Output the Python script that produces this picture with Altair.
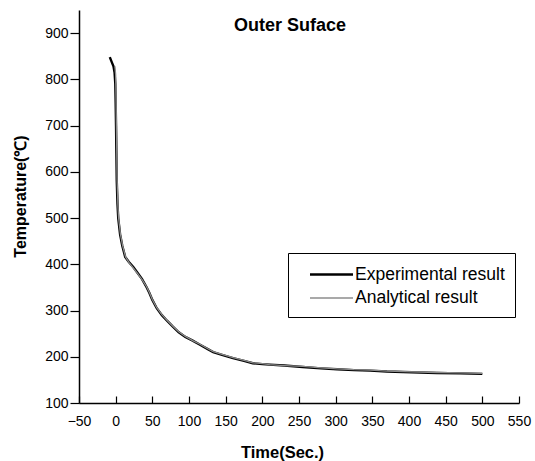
import altair as alt
import pandas as pd

# Experimental result
exp_time = [-8, -6, -3, -1.5, -0.5, 0, 0.5, 1, 1.5, 2.5, 3.5, 6, 9, 13, 18, 24, 30, 36, 42, 46, 50,
            56, 63, 70, 78, 86, 95, 105, 115, 125, 133, 145, 160, 175, 187, 200, 210, 230, 255,
            280, 302, 325, 347, 370, 392, 415, 438, 470, 500]
exp_temp = [848, 840, 828, 815, 790, 750, 700, 640, 580, 530, 500, 465, 440, 416, 405, 394, 381,
            368, 351, 338, 323, 305, 290, 278, 265, 253, 243, 235, 226, 217, 210, 204, 197, 191,
            186, 184, 183, 181, 178, 175, 173, 171, 170, 168, 167, 166, 165, 164, 163]

# Analytical result
ana_time = [-1, 0, 0.5, 1, 1.5, 2, 3, 4, 6.5, 9.5, 13.5, 18, 24, 30, 36, 42, 46, 50, 56, 63, 70,
            78, 86, 95, 105, 115, 125, 133, 145, 160, 175, 187, 200, 210, 230, 255, 280, 302,
            325, 347, 370, 392, 415, 438, 470, 500]
ana_temp = [828, 810, 760, 700, 640, 580, 530, 500, 465, 440, 416, 404, 392, 380, 367, 352, 339,
            324, 306, 291, 279, 266, 254, 244, 235, 227, 218, 211, 205, 198, 192, 187, 185, 183,
            181, 179, 176, 174, 172, 171, 169, 168, 167, 166, 165, 164]

series_names = ["Experimental result", "Analytical result"]
x_ticks = list(range(-50, 551, 50))
y_ticks = list(range(100, 901, 100))

df = pd.concat([
    pd.DataFrame({"time": exp_time, "temp": exp_temp, "series": series_names[0]}),
    pd.DataFrame({"time": ana_time, "temp": ana_temp, "series": series_names[1]}),
], ignore_index=True)

FONT = "Liberation Sans"
W, H = 440, 393

xscale = alt.Scale(domain=[-50, 550], nice=False, zero=False)
yscale = alt.Scale(domain=[100, 950], nice=False, zero=False)

yaxis = alt.Axis(
    values=y_ticks, tickSize=9,
    tickColor="black", tickWidth=1.2, domainColor="black", domainWidth=1.5,
    labelFont=FONT, labelFontSize=14, labelColor="black", labelPadding=2,
    labelFlush=False, grid=False,
    title="Temperature(℃)", titleFont=FONT, titleFontSize=16, titleFontWeight="bold",
    titleColor="black", titleAngle=270, titleX=-54, titleY=186, titleAlign="center",
    titleBaseline="alphabetic",
)

legend = alt.Legend(
    title=None, orient="none", legendX=209, legendY=243,
    strokeColor="black", padding=10,
    symbolType="M-2.15,0H2.15", symbolSize=400, symbolOffset=22,
    labelOffset=12, labelFont=FONT, labelFontSize=17.5, labelColor="black",
    rowPadding=4,
)

color = alt.Color("series:N",
                  scale=alt.Scale(domain=series_names, range=["black", "#8c8c8c"]),
                  legend=legend)
swidth = alt.StrokeWidth("series:N",
                         scale=alt.Scale(domain=series_names, range=[2.4, 1.3]),
                         legend=legend)

base = alt.Chart(df)

exp_layer = base.transform_filter(
    alt.datum.series == series_names[0]
).mark_line().encode(
    x=alt.X("time:Q", scale=xscale, axis=alt.Axis(
        orient="bottom", values=x_ticks,
        ticks=False, domainColor="black", domainWidth=1.5, grid=False,
        labelFont=FONT, labelFontSize=14, labelColor="black", labelPadding=11,
        labelFlush=False, labelOverlap=False,
        title="Time(Sec.)", titleFont=FONT, titleFontSize=16.5, titleFontWeight="bold",
        titleColor="black", titleX=203, titleY=54, titleBaseline="alphabetic",
        titleAlign="center")),
    y=alt.Y("temp:Q", scale=yscale, axis=yaxis),
    color=color, strokeWidth=swidth,
)

ana_layer = base.transform_filter(
    alt.datum.series == series_names[1]
).mark_line().encode(
    x=alt.X("time:Q", scale=xscale, axis=alt.Axis(
        orient="top", offset=-H, values=x_ticks, labels=False, domain=False, grid=False,
        tickSize=7, tickColor="black", tickWidth=1.2, title=None)),
    y=alt.Y("temp:Q", scale=yscale, axis=yaxis),
    color=color, strokeWidth=swidth,
)

chart = alt.layer(exp_layer, ana_layer).resolve_axis(x="independent").properties(
    width=W, height=H,
    background="white",
    autosize=alt.AutoSizeParams(type="none"),
    padding={"left": 79, "top": 10, "right": 16, "bottom": 58},
    title=alt.TitleParams("Outer Suface", font=FONT, fontSize=18, fontWeight="bold",
                          color="black", anchor="middle", frame="group", offset=0,
                          dx=-9, dy=25),
).configure_view(stroke=None, strokeWidth=0, strokeOpacity=0).configure_axis(
    grid=False, gridOpacity=0
)

chart.save("out.html", embed_options={"renderer": "svg", "actions": False})
